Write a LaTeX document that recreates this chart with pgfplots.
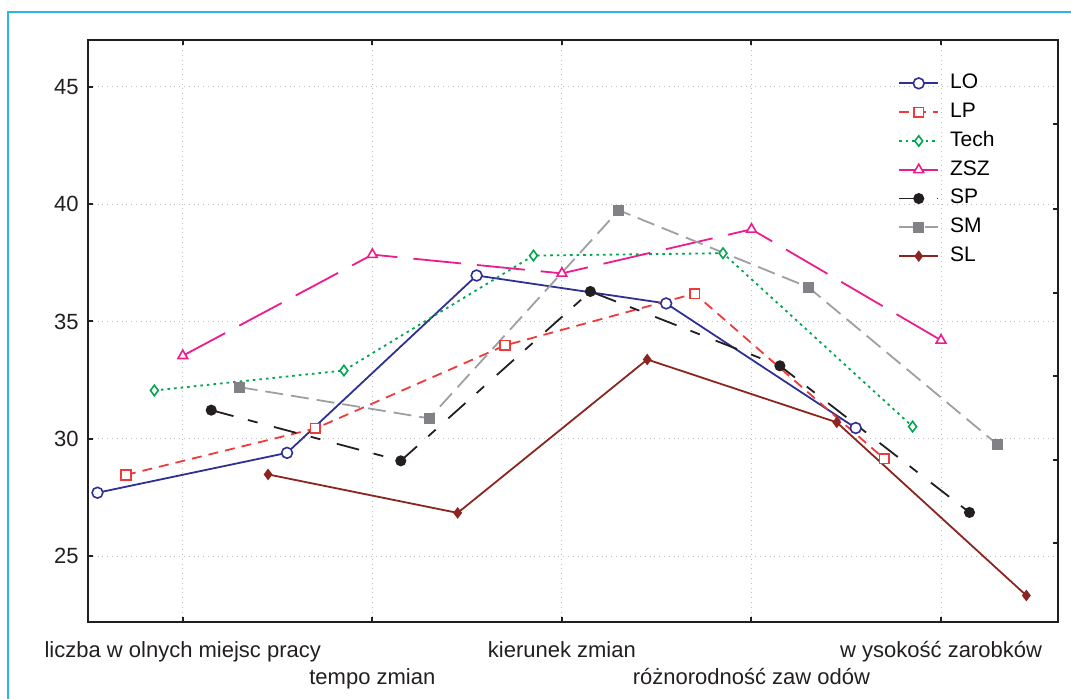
\documentclass[border=0pt]{standalone}
\usepackage{fontspec}
\setmainfont{Liberation Sans}
\usepackage{pgfplots}
\pgfplotsset{compat=1.18}

\definecolor{cLO}{HTML}{2E3192}
\definecolor{cLP}{HTML}{EE3A3A}
\definecolor{cTech}{HTML}{00A651}
\definecolor{cZSZ}{HTML}{EC1C8E}
\definecolor{cSP}{HTML}{231F20}
\definecolor{cSM}{HTML}{9D9FA2}
\definecolor{cSMm}{HTML}{808285}
\definecolor{cSL}{HTML}{8B2520}
\definecolor{framec}{HTML}{2CB5E8}
\definecolor{gridc}{HTML}{BEBEBE}
\definecolor{axisc}{HTML}{231F20}

\pgfplotsset{
  boxdims/.style={
    at={(44pt,38.5pt)}, anchor=south west,
    width=485pt, height=291pt, scale only axis,
    xmin=0.5, xmax=5.617, ymin=22.19, ymax=47,
  },
}

\begin{document}
\begin{tikzpicture}[x=1pt,y=1pt]
\useasboundingbox (0,0) rectangle (535.5,349.5);
\begin{scope}
  \clip (0,0) rectangle (535.5,349.5);
  \draw[framec, line width=1pt] (4,343.5) rectangle (560,-20);
\end{scope}

% ticks of the right-hand scale
\begin{axis}[boxdims,
  hide x axis,
  ytick pos=right,
  ytick={25.55,29.09,32.67,36.23,39.81,43.40},
  yticklabels={},
  tick align=inside,
  major tick length=2.5pt,
  axis line style={line width=1.2pt, axisc},
  tick style={line width=1pt, axisc},
]
\end{axis}

\begin{axis}[boxdims,
  /pgf/number format/assume math mode=true,
  xtick={1,3,5},
  xticklabels={{liczba w\kern0.28em olnych miejsc pracy},{kierunek zmian},{w\kern0.28em ysokość zarobków}},
  extra x ticks={2,4},
  extra x tick labels={{tempo zmian},{różnorodność zaw\kern0.28em odów}},
  extra x tick style={grid=major, tick label style={yshift=-13.5pt}},
  ytick={25,30,35,40,45},
  ytick pos=left,
  tick align=inside,
  major tick length=2.5pt,
  grid=major,
  major grid style={gridc, dotted, line width=0.5pt},
  axis line style={line width=1.2pt, axisc},
  tick style={line width=1pt, axisc},
  xticklabel style={font=\fontsize{11}{13}\selectfont, inner sep=0pt, text height=8pt, text depth=2.5pt, yshift=-9.5pt, text=axisc},
  yticklabel style={font=\fontsize{11}{13}\selectfont, inner sep=0pt, xshift=-4.5pt, text=axisc},
  legend cell align=left,
  legend style={draw=none, fill=none, at={(0.835,0.943)}, anchor=north west,
    inner sep=0pt, font=\fontsize{10.5}{12}\selectfont,
    nodes={inner sep=0pt, text height=7.6pt, text depth=2.2pt},
    row sep=4.6pt, column sep=5.5pt},
  legend image code/.code={
    \draw[mark repeat=2, mark phase=2] plot coordinates {(0pt,0pt) (9.75pt,0pt) (19.5pt,0pt)};
  },
  every axis plot/.append style={line width=0.9pt},
]

\addplot[cLO, solid, mark=*, mark size=2.7pt, mark options={solid, fill=white, draw=cLO, line width=0.8pt}]
  coordinates {(0.55,27.70) (1.55,29.40) (2.55,36.96) (3.55,35.77) (4.55,30.46)};
\addlegendentry{LO}

\addplot[cLP, dash pattern=on 5pt off 3.5pt, mark=square*, mark size=2.4pt, mark options={solid, fill=white, draw=cLP, line width=0.8pt}]
  coordinates {(0.70,28.46) (1.70,30.44) (2.70,33.98) (3.70,36.19) (4.70,29.15)};
\addlegendentry{LP}

\addplot[cTech, dash pattern=on 1.3pt off 2pt, mark=diamond*, mark size=2.6pt, mark options={solid, fill=white, draw=cTech, line width=0.8pt}]
  coordinates {(0.85,32.06) (1.85,32.91) (2.85,37.81) (3.85,37.91) (4.85,30.52)};
\addlegendentry{Tech}

\addplot[cZSZ, dash pattern=on 24pt off 8pt, mark=triangle*, mark size=2.8pt, mark options={solid, fill=white, draw=cZSZ, line width=0.8pt}]
  coordinates {(1,33.54) (2,37.85) (3,37.05) (4,38.93) (5,34.20)};
\addlegendentry{ZSZ}

\addplot[cSP, dash pattern=on 11.5pt off 7.5pt on 5pt off 8.5pt, mark=*, mark size=2.3pt, mark options={solid, fill=cSP, draw=cSP}]
  coordinates {(1.15,31.22) (2.15,29.06) (3.15,36.28) (4.15,33.11) (5.15,26.86)};
\addlegendentry{SP}

\addplot[cSM, dash pattern=on 9pt off 4pt, mark=square*, mark size=2.3pt, mark options={solid, fill=cSMm, draw=cSMm}]
  coordinates {(1.30,32.20) (2.30,30.87) (3.30,39.74) (4.30,36.46) (5.30,29.74)};
\addlegendentry{SM}

\addplot[cSL, solid, mark=diamond*, mark size=2.2pt, mark options={solid, fill=cSL, draw=cSL}]
  coordinates {(1.45,28.48) (2.45,26.84) (3.45,33.38) (4.45,30.70) (5.45,23.32)};
\addlegendentry{SL}

\end{axis}
\end{tikzpicture}
\end{document}
